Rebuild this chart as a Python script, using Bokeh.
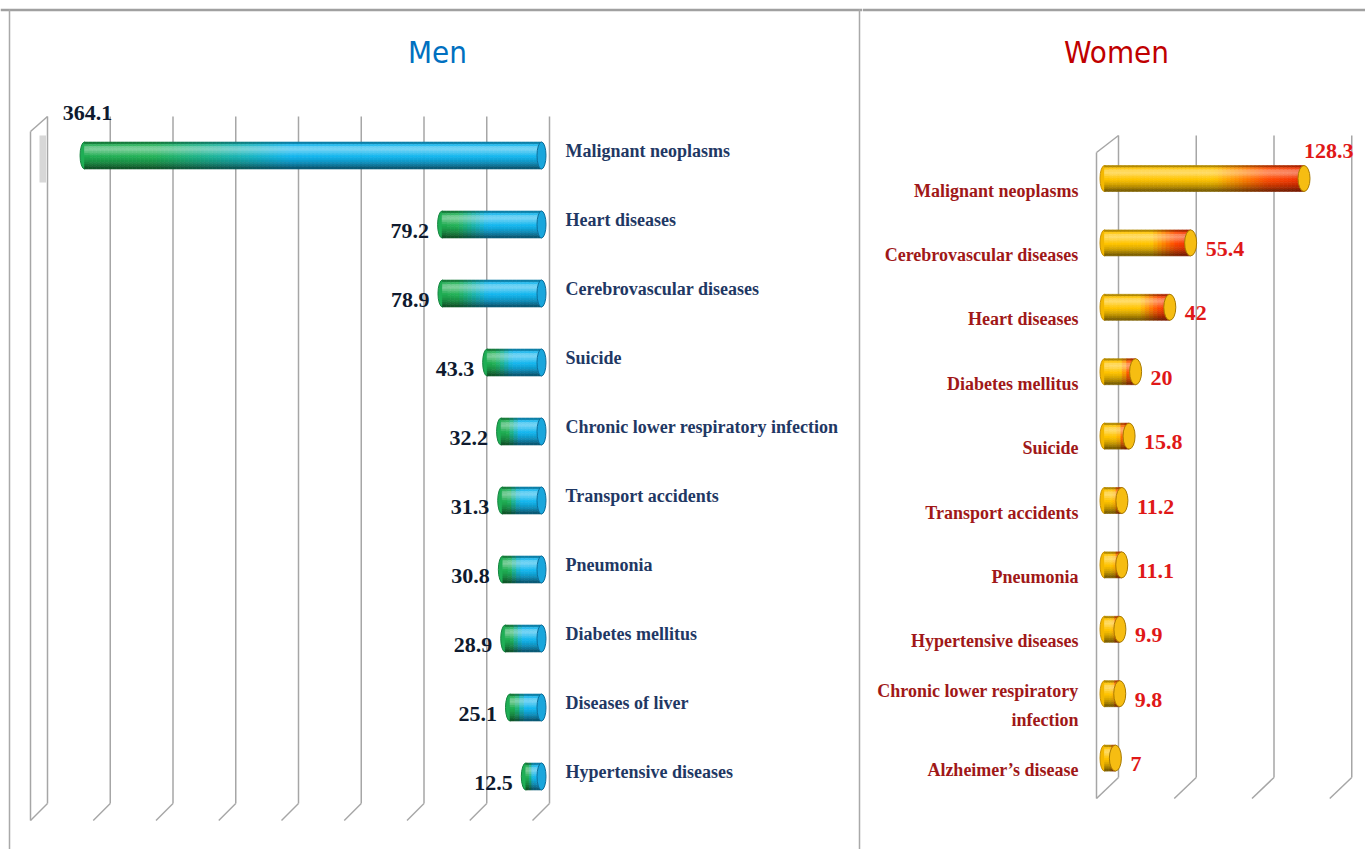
import numpy as np
from bokeh.plotting import figure
from bokeh.models import Range1d, ColumnDataSource
from bokeh.layouts import row
from bokeh.core.properties import value
from bokeh.embed import file_html
from bokeh.resources import INLINE

# ---------------- data ----------------
men_causes = ["Malignant neoplasms", "Heart diseases", "Cerebrovascular diseases", "Suicide",
              "Chronic lower respiratory  infection", "Transport accidents", "Pneumonia",
              "Diabetes mellitus", "Diseases of liver", "Hypertensive diseases"]
men_rates = [364.1, 79.2, 78.9, 43.3, 32.2, 31.3, 30.8, 28.9, 25.1, 12.5]

women_causes = ["Malignant neoplasms", "Cerebrovascular diseases", "Heart diseases",
                "Diabetes mellitus", "Suicide", "Transport accidents", "Pneumonia",
                "Hypertensive diseases", "Chronic lower respiratory\ninfection",
                "Alzheimer\u2019s disease"]
women_rates = [128.3, 55.4, 42, 20, 15.8, 11.2, 11.1, 9.9, 9.8, 7]

men_ticks = [0, 50, 100, 150, 200, 250, 300, 350, 400]
women_ticks = [0, 50, 100, 150]

men_title = "Men"
women_title = "Women"

# ---------------- geometry (page pixels) ----------------
H = 849
M_L, M_R = 0, 862
W_L, W_R = 862, 1365

M_ZERO, M_K, M_Y0, M_DY = 541.0, 1.255, 155.0, 69.0
W_ZERO, W_K, W_Y0, W_DY = 1104.0, 1.555, 178.0, 64.4


def mx(ax):
    return (M_ZERO - ax) / M_K


def my(ay):
    return (ay - M_Y0) / M_DY


def wx(ax):
    return (ax - W_ZERO) / W_K


def wy(ay):
    return (ay - W_Y0) / W_DY


# ---------------- colour helpers ----------------
def hex2rgb(h):
    h = h.lstrip("#")
    return tuple(int(h[i:i + 2], 16) for i in (0, 2, 4))


def mix(c, o, f):
    return tuple(int(round(c[j] + (o[j] - c[j]) * f)) for j in range(3))


def shade(c, f):
    return mix(c, (255, 255, 255), f) if f >= 0 else mix(c, (0, 0, 0), -f)


def tohex(c):
    return "#%02x%02x%02x" % c


def lerp_stops(stops, s):
    for (p0, c0), (p1, c1) in zip(stops[:-1], stops[1:]):
        if s <= p1:
            f = 0 if p1 == p0 else (s - p0) / (p1 - p0)
            return mix(hex2rgb(c0), hex2rgb(c1), min(max(f, 0), 1))
    return hex2rgb(stops[-1][1])


def cylinder(vals, k, half, stops, profile, step_px=4):
    L, R, T, B, C = [], [], [], [], []
    nb = len(profile)
    for i, v in enumerate(vals):
        n = max(6, int(v * k / step_px))
        for j in range(n):
            a, b = v * j / n, v * (j + 1) / n
            base = lerp_stops(stops, (j + 0.5) / n)
            for q, f in enumerate(profile):
                L.append(a)
                R.append(b)
                T.append(i - half + 2 * half * q / nb)
                B.append(i - half + 2 * half * (q + 1) / nb)
                C.append(tohex(shade(base, f)))
    return ColumnDataSource(dict(left=L, right=R, top=T, bottom=B, color=C))


PROFILE = [-0.30, 0.10, 0.35, 0.40, 0.28, 0.12, 0.0, -0.06, -0.14, -0.24, -0.36, -0.5]

SERIF = value("Liberation Serif")
NARROW = value("Liberation Sans Narrow, DejaVu Sans Condensed, sans-serif")
GRID = "#a6a6a6"
BORDER = "#a9a9a9"


def base_fig(width, xr, yr):
    p = figure(width=width, height=H, x_range=xr, y_range=yr,
               output_backend="svg", toolbar_location=None, min_border=0,
               x_axis_type=None, y_axis_type=None)
    p.grid.visible = False
    p.outline_line_color = None
    p.background_fill_color = "white"
    p.border_fill_color = "white"
    return p


# ================= MEN =================
pm = base_fig(M_R - M_L, Range1d(mx(M_L), mx(M_R)), Range1d(my(H), my(0)))
n_m = len(men_rates)
idx_m = np.arange(n_m)
half_m = 13.5 / M_DY

# frame lines of the picture
pm.segment(x0=[mx(0), mx(9), mx(859)], y0=[my(9.5), my(9), my(9)],
           x1=[mx(862), mx(9), mx(859)], y1=[my(9.5), my(H), my(H)],
           line_color=["#a0a0a0", BORDER, BORDER], line_width=[2.5, 1.5, 1.5])

# grid (back plane) with 3-D floor slants
back_m = [t - 8 / M_K for t in men_ticks]
front_m = [t + 9 / M_K for t in men_ticks]
pm.segment(x0=back_m, y0=[my(116)] * len(men_ticks), x1=back_m, y1=[my(803)] * len(men_ticks),
           line_color=GRID, line_width=1.5)
pm.segment(x0=back_m, y0=[my(803)] * len(men_ticks), x1=front_m, y1=[my(820)] * len(men_ticks),
           line_color=GRID, line_width=1.5)
# side wall at the far end
pm.segment(x0=[front_m[-1], back_m[-1]], y0=[my(131), my(116)],
           x1=[front_m[-1], front_m[-1]], y1=[my(820), my(131)], line_color=GRID, line_width=1.5)
pm.quad(left=[back_m[-1] + 1.5 / M_K], right=[back_m[-1] + 8 / M_K], top=[my(135)], bottom=[my(182)],
        fill_color="#bdbdbd", fill_alpha=0.6, line_color=None)

# bars: tip (far end) rounded
pm.ellipse(x=men_rates, y=idx_m, width=9, height=2 * half_m, width_units="screen",
           height_units="data", fill_color="#1fae55", line_color="#14853f", line_width=1)
src_m = cylinder(men_rates, M_K, half_m,
                 [(0, "#13b6ee"), (0.55, "#13b6ee"), (0.85, "#22b257"), (1.0, "#20ac52")], PROFILE)
pm.quad(left="left", right="right", top="top", bottom="bottom", source=src_m,
        fill_color="color", line_color="color", line_width=0.6)
pm.ellipse(x=[0] * n_m, y=idx_m, width=9, height=2 * half_m, width_units="screen",
           height_units="data", fill_color="#19a6dc", line_color="#0d6e9a", line_width=1)

# labels
pm.text(x=[0] * n_m, y=idx_m, text=men_causes, x_offset=24, y_offset=-5,
        text_align="left", text_baseline="middle", text_font=SERIF, text_font_style="bold",
        text_font_size="18px", text_color="#1f3864")
mmax = max(men_rates)
lab_m = ColumnDataSource(dict(
    x=men_rates, y=idx_m, text=[f"{v:g}" for v in men_rates],
    xo=[3 if v == mmax else -13 for v in men_rates],
    yo=[-43 if v == mmax else 6 for v in men_rates],
    al=["center" if v == mmax else "right" for v in men_rates]))
pm.text(x="x", y="y", text="text", x_offset="xo", y_offset="yo", text_align="al",
        text_baseline="middle", source=lab_m, text_font=SERIF, text_font_style="bold",
        text_font_size="22px", text_color="#0f1a2e")
pm.text(x=[mx(437)], y=[my(51)], text=[men_title], text_align="center", text_baseline="middle",
        text_font=NARROW, text_font_size="31px", text_color="#0070c0")

# ================= WOMEN =================
pw = base_fig(W_R - W_L, Range1d(wx(W_L), wx(W_R)), Range1d(wy(H), wy(0)))
n_w = len(women_rates)
idx_w = np.arange(n_w)
half_w = 13.0 / W_DY

pw.segment(x0=[wx(W_L)], y0=[wy(9.5)], x1=[wx(W_R)], y1=[wy(9.5)], line_color="#a0a0a0",
           line_width=2.5)

back_w = [t + 14 / W_K for t in women_ticks]
front_w = [t - 8 / W_K for t in women_ticks]
pw.segment(x0=back_w, y0=[wy(135)] * len(women_ticks), x1=back_w, y1=[wy(777)] * len(women_ticks),
           line_color=GRID, line_width=1.5)
pw.segment(x0=back_w, y0=[wy(777)] * len(women_ticks), x1=front_w, y1=[wy(798)] * len(women_ticks),
           line_color=GRID, line_width=1.5)
pw.segment(x0=[front_w[0], back_w[0]], y0=[wy(152), wy(135)],
           x1=[front_w[0], front_w[0]], y1=[wy(798), wy(152)], line_color=GRID, line_width=1.5)

pw.ellipse(x=[0] * n_w, y=idx_w, width=9, height=2 * half_w, width_units="screen",
           height_units="data", fill_color="#f4b800", line_color="#c89000", line_width=1)
src_w = cylinder(women_rates, W_K, half_w,
                 [(0, "#ffc400"), (0.55, "#ffc400"), (0.82, "#ff4a00"), (1.0, "#f03000")], PROFILE)
pw.quad(left="left", right="right", top="top", bottom="bottom", source=src_w,
        fill_color="color", line_color="color", line_width=0.6)
pw.ellipse(x=women_rates, y=idx_w, width=12, height=2 * half_w, width_units="screen",
           height_units="data", fill_color="#f6bd12", line_color="#a87a00", line_width=1)

pw.text(x=[0] * n_w, y=idx_w, text=women_causes, x_offset=-26, y_offset=12,
        text_align="right", text_baseline="middle", text_font=SERIF, text_font_style="bold",
        text_font_size="18px", text_color="#a01818", text_line_height=1.45)
wmax = max(women_rates)
lab_w = ColumnDataSource(dict(
    x=women_rates, y=idx_w, text=[f"{v:g}" for v in women_rates],
    xo=[0 if v == wmax else 15 for v in women_rates],
    yo=[-28 if v == wmax else 6 for v in women_rates]))
pw.text(x="x", y="y", text="text", x_offset="xo", y_offset="yo", text_align="left",
        text_baseline="middle", source=lab_w, text_font=SERIF, text_font_style="bold",
        text_font_size="22px", text_color="#e01818")
pw.text(x=[wx(1116)], y=[wy(51)], text=[women_title], text_align="center", text_baseline="middle",
        text_font=NARROW, text_font_size="31px", text_color="#c00000")

layout = row(pm, pw, spacing=0)
open("out.html", "w").write(file_html(layout, INLINE))
